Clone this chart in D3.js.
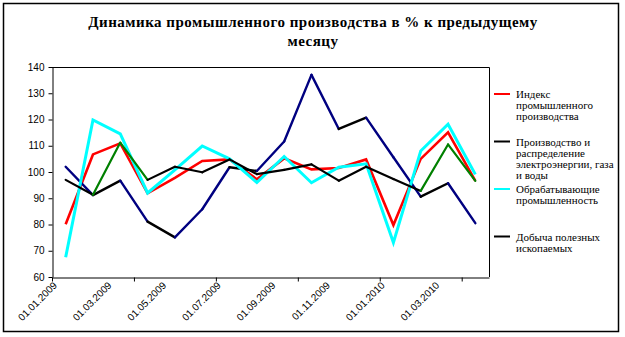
<!DOCTYPE html>
<html>
<head>
<meta charset="utf-8">
<script src="https://cdn.jsdelivr.net/npm/d3@7"></script>
<style>
  html, body { margin: 0; padding: 0; background: #fff; }
  svg { display: block; }
</style>
</head>
<body>
<svg id="chart" width="625" height="337"></svg>
<script>
// Monthly data, January 2009 – April 2010
const months = ["01.01.2009","01.02.2009","01.03.2009","01.04.2009","01.05.2009","01.06.2009",
  "01.07.2009","01.08.2009","01.09.2009","01.10.2009","01.11.2009","01.12.2009",
  "01.01.2010","01.02.2010","01.03.2010","01.04.2010"];

const indexTotal     = [80.1, 106.7, 110.9, 91.9, 97.8, 104.2, 104.8, 97.2, 105.2, 101.0, 101.5, 104.8, 79.8, 105.0, 115.1, 96.6];
const electricity    = [102.0, 91.2, 96.7, 81.1, 75.1, 85.8, 101.8, 100.4, 111.6, 137.0, 116.4, 120.7, 105.6, 90.6, 95.7, 80.5];
const manufacturing  = [67.5, 119.8, 114.5, 92.0, 100.8, 109.9, 105.0, 96.0, 105.9, 95.9, 101.8, 103.1, 73.1, 108.0, 118.2, 99.1];
const mining         = [97.0, 91.3, 111.2, 97.0, 102.0, 99.9, 104.8, 99.2, 100.8, 102.9, 96.7, 102.0, 97.3, 92.8, 110.5, 96.6];

const seriesNames = [
  ["Индекс", "промышленного", "производства"],
  ["Производство и", "распределение", "электроэнергии, газа", "и воды"],
  ["Обрабатывающие", "промышленность"],
  ["Добыча полезных", "ископаемых"]
];

const yTicks = [60, 70, 80, 90, 100, 110, 120, 130, 140];

// Drawing styles (legend order). Lines with a flatColor are drawn in that
// colour wherever a segment is shallower than 45 degrees.
const styles = [
  { color: "#ff0000", width: 2.6, flatColor: null },
  { color: "#000080", width: 2.4, flatColor: "#000000" },
  { color: "#00ffff", width: 3.0, flatColor: null },
  { color: "#008000", width: 2.2, flatColor: "#000000" }
];
const seriesData = [indexTotal, electricity, manufacturing, mining];

const svg = d3.select("#chart");
const plot = { left: 52, right: 489, top: 67, bottom: 277 };

// outer frame
svg.append("rect")
  .attr("x", 3.5).attr("y", 3.5).attr("width", 615).attr("height", 328)
  .attr("fill", "#fff").attr("stroke", "#000").attr("stroke-width", 1.5);

// title
const title = svg.append("text")
  .attr("text-anchor", "middle")
  .attr("font-family", "'Liberation Serif', 'Times New Roman', serif")
  .attr("font-weight", "bold")
  .attr("font-size", 15)
  .attr("letter-spacing", 0.5)
  .attr("fill", "#000");
title.append("tspan").attr("x", 313).attr("y", 27).text("Динамика промышленного производства в % к предыдущему");
title.append("tspan").attr("x", 313).attr("y", 46).text("месяцу");

const x = d3.scaleBand().domain(months).range([plot.left, plot.right]).padding(0);
const xEdge = d3.scaleLinear().domain([0, months.length]).range([plot.left, plot.right]);
const y = d3.scaleLinear().domain([60, 140]).range([plot.bottom, plot.top]);
const cx = m => x(m) + x.bandwidth() / 2;

// plot area frame (top & right)
svg.append("path")
  .attr("d", `M${plot.left},${plot.top + 0.5}H${plot.right + 0.5}V${plot.bottom}`)
  .attr("fill", "none").attr("stroke", "#000").attr("stroke-width", 1);

// y axis
const yAxis = svg.append("g")
  .attr("transform", `translate(${plot.left + 0.5},0)`)
  .call(d3.axisLeft(y).tickValues(yTicks).tickSize(4).tickPadding(4).tickSizeOuter(0));
yAxis.selectAll("text")
  .attr("font-family", "'Liberation Sans', Arial, sans-serif")
  .attr("font-size", 10).attr("fill", "#000");
yAxis.selectAll("line, path").attr("stroke", "#000");

// x axis: tick marks every three months
const xAxis = svg.append("g")
  .attr("transform", `translate(0,${plot.bottom + 0.5})`)
  .call(d3.axisBottom(xEdge).tickValues(d3.range(0, months.length, 3)).tickSize(4).tickFormat("").tickSizeOuter(0));
xAxis.selectAll("line, path").attr("stroke", "#000");

// x labels every two months, rotated
svg.append("g").selectAll("text")
  .data(months.filter((d, i) => i % 2 === 0))
  .join("text")
  .attr("transform", d => `translate(${cx(d) - 8},${plot.bottom + 9}) rotate(-45)`)
  .attr("text-anchor", "end")
  .attr("font-family", "'Liberation Sans', Arial, sans-serif")
  .attr("font-size", 10)
  .attr("fill", "#000")
  .text(d => d);

// lines
const lines = svg.append("g").attr("fill", "none").attr("stroke-linejoin", "miter").attr("stroke-linecap", "butt");
seriesData.forEach((vals, si) => {
  const st = styles[si];
  const pts = vals.map((v, i) => [cx(months[i]), y(v)]);
  if (!st.flatColor) {
    lines.append("path")
      .attr("d", d3.line()(pts))
      .attr("stroke", st.color).attr("stroke-width", st.width);
  } else {
    const segs = d3.pairs(pts);
    lines.selectAll(null).data(segs).join("path")
      .attr("d", s => d3.line()(s))
      .attr("stroke", s => Math.abs(s[1][1] - s[0][1]) > Math.abs(s[1][0] - s[0][0]) ? st.color : st.flatColor)
      .attr("stroke-width", st.width)
      .attr("stroke-linecap", "round");
  }
});

// legend
const legendY = [94, 141.5, 189, 236.5];
const legend = svg.append("g");
seriesNames.forEach((lines_, i) => {
  const st = styles[i];
  legend.append("line")
    .attr("x1", 494).attr("x2", 510)
    .attr("y1", legendY[i]).attr("y2", legendY[i])
    .attr("stroke", st.flatColor || st.color).attr("stroke-width", 2);
  const t = legend.append("text")
    .attr("font-family", "'Liberation Serif', 'Times New Roman', serif")
    .attr("font-size", 11).attr("fill", "#000");
  lines_.forEach((ln, k) => {
    t.append("tspan").attr("x", 516).attr("y", legendY[i] + 4 + k * 11).text(ln);
  });
});
</script>
</body>
</html>
